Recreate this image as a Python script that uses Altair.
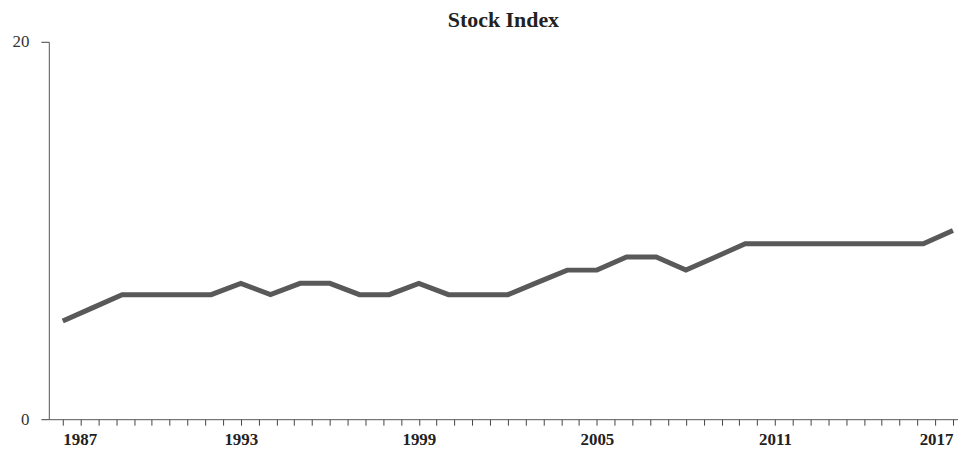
import altair as alt
import pandas as pd

years = list(range(1987, 2018))
values = [5.2, 5.9, 6.6, 6.6, 6.6, 6.6, 7.2, 6.6, 7.2, 7.2, 6.6, 6.6, 7.2, 6.6, 6.6,
          6.6, 7.25, 7.9, 7.9, 8.6, 8.6, 7.9, 8.6, 9.3, 9.3, 9.3, 9.3, 9.3, 9.3, 9.3, 10.0]
tick_values = [round(1987 + 0.6 * k, 2) for k in range(0, 51)]
y_ticks = [0, 20]

df = pd.DataFrame({"year": years, "value": values})

font = "Liberation Serif"

chart = alt.Chart(df).mark_line(color="#595959", strokeWidth=5, strokeJoin="miter").encode(
    x=alt.X("year:Q", scale=alt.Scale(domain=[1986.53, 2017.17], nice=False, zero=False),
            axis=alt.Axis(values=tick_values, title=None, grid=False,
                          labelExpr="abs(datum.value - round(datum.value)) < 0.01 && (round(datum.value) - 1987) % 6 == 0 ? '' + round(datum.value) : ''",
                          labelFont=font, labelFontWeight="bold", labelFontSize=17, labelColor="#222",
                          labelBaseline="alphabetic", labelPadding=19,
                          tickSize=6, tickColor="#444", domainColor="#555",
                          labelOverlap=False, labelFlush=20)),
    y=alt.Y("value:Q", scale=alt.Scale(domain=[0, 20], nice=False),
            axis=alt.Axis(values=y_ticks, title=None, grid=False, labelFont=font,
                          labelFontSize=17, labelColor="#333", tickSize=8, tickColor="#444",
                          domainColor="#555", labelPadding=12)),
).properties(
    width=913, height=379,
    title=alt.Title("Stock Index", font=font, fontSize=22, fontWeight="bold", color="#222",
                    anchor="middle", offset=1),
    autosize=alt.AutoSizeParams(type="none"),
    padding={"left": 41, "top": 33, "right": 0, "bottom": 30},
).configure_view(stroke=None)

chart.save("out.html", embed_options={"renderer": "svg", "actions": False})
